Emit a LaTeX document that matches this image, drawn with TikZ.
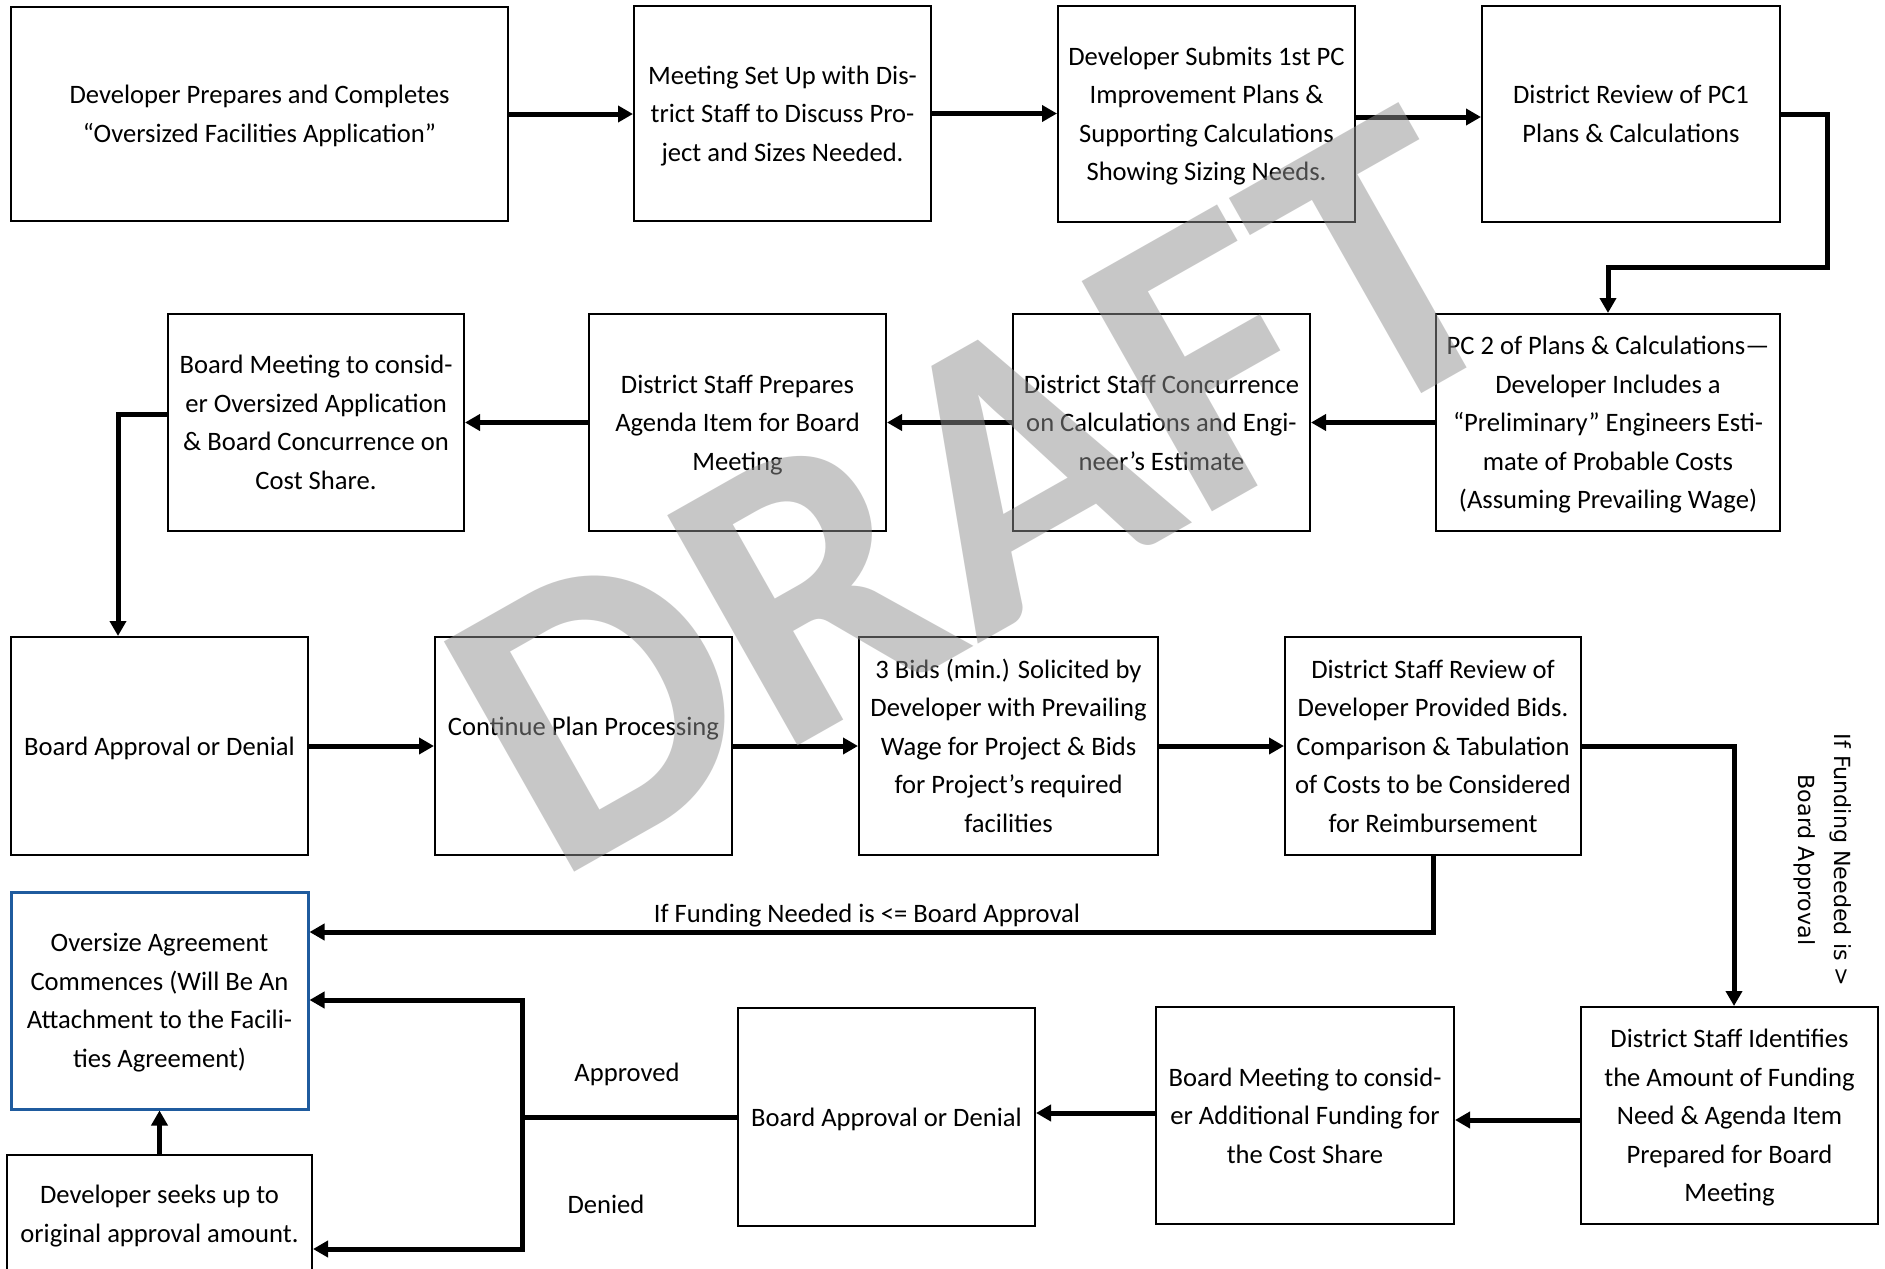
\documentclass[tikz,border=0pt]{standalone}
\usepackage{fontspec}
\setmainfont{Carlito}
\newfontfamily\dvsans{DejaVu Sans}
\usetikzlibrary{arrows.meta}
\definecolor{boxblue}{RGB}{31,91,158}
\definecolor{wmgray}{RGB}{145,145,145}
\newcommand\topst{\rule{0pt}{14pt}}
\newcommand\botst{\rule[-5pt]{0pt}{5pt}}
\begin{document}
\begin{tikzpicture}[x=0.5pt,y=-0.5pt,
  box/.style={draw=black,line width=1pt,fill=none,inner sep=0pt,align=center,
    font=\fontsize{13.3}{19.25}\selectfont},
  ln/.style={line width=2.5pt,line join=miter},
  arr/.style={ln,-{Triangle[length=7.5pt,width=8pt]}},
  lbl/.style={font=\fontsize{13.3}{19.25}\selectfont}]
\fill[white] (0,0) rectangle (1885,1269);
\useasboundingbox (0,0) rectangle (1885,1269);

% row 1
\node[box,minimum width=248.5pt,minimum height=107pt] (A) at (259.5,114)
  {\topst Developer Prepares and Completes\\“Oversized Facilities Application”\botst};
\node[box,minimum width=148.5pt,minimum height=107.5pt] (B) at (782.5,113.5)
  {\topst Meeting Set Up with Dis-\\trict Staff to Discuss Pro-\\ject and Sizes Needed.\botst};
\node[box,minimum width=148.5pt,minimum height=108pt] (C) at (1206.5,114)
  {\topst Developer Submits 1st PC\\Improvement Plans \&\\Supporting Calculations\\Showing Sizing Needs.\botst};
\node[box,minimum width=149pt,minimum height=108pt] (D) at (1631,114)
  {\topst District Review of PC1\\Plans \& Calculations\botst};
% row 2
\node[box,minimum width=172pt,minimum height=108.5pt] (E) at (1608,422.5)
  {\topst PC 2 of Plans \& Calculations—\\Developer Includes a\\“Preliminary” Engineers Esti-\\mate of Probable Costs\\(Assuming Prevailing Wage)\botst};
\node[box,minimum width=148.5pt,minimum height=108.5pt] (H) at (1161.5,422.5)
  {\topst District Staff Concurrence\\on Calculations and Engi-\\neer’s Estimate\botst};
\node[box,minimum width=148.5pt,minimum height=108.5pt] (G) at (737.5,422.5)
  {\topst District Staff Prepares\\Agenda Item for Board\\Meeting\botst};
\node[box,minimum width=148pt,minimum height=108.5pt] (F) at (316,422.5)
  {\topst Board Meeting to consid-\\er Oversized Application\\\& Board Concurrence on\\Cost Share.\botst};
% row 3
\node[box,minimum width=148.5pt,minimum height=109pt] (J) at (159.5,746)
  {\topst Board Approval or Denial\botst};
\node[box,minimum width=148.5pt,minimum height=109pt] (K) at (583.5,746)
  {\topst Continue Plan Processing\\\mbox{}\botst};
\node[box,minimum width=149.5pt,minimum height=109pt] (L) at (1008.5,746)
  {\topst 3 Bids (min.) Solicited by\\Developer with Prevailing\\Wage for Project \& Bids\\for Project’s required\\facilities\botst};
\node[box,minimum width=148pt,minimum height=109pt] (M) at (1433,746)
  {\topst District Staff Review of\\Developer Provided Bids.\\Comparison \& Tabulation\\of Costs to be Considered\\for Reimbursement\botst};
% row 4
\node[box,minimum width=148.5pt,minimum height=108.5pt] (N) at (1729.5,1115.5)
  {\topst District Staff Identifies\\the Amount of Funding\\Need \& Agenda Item\\Prepared for Board\\Meeting\botst};
\node[box,minimum width=149pt,minimum height=108.5pt] (R) at (1305,1115.5)
  {\topst Board Meeting to consid-\\er Additional Funding for\\the Cost Share\botst};
\node[box,minimum width=148.5pt,minimum height=109pt] (Q) at (886.5,1117)
  {\topst Board Approval or Denial\botst};
\node[box,draw=boxblue,line width=1.5pt,minimum width=148.5pt,minimum height=108.5pt] (O) at (159.5,1000.5)
  {\topst Oversize Agreement\\Commences (Will Be An\\Attachment to the Facili-\\ties Agreement)\botst};
\node[box,minimum width=152.5pt,minimum height=59pt] (P) at (159.5,1214)
  {\topst Developer seeks up to\\original approval amount.\botst};

% labels
\node[lbl] (lle) at (867,916) {If Funding Needed is <= Board Approval};
\node[lbl] (lap) at (627,1074.5) {Approved};
\node[lbl] (lde) at (606,1204.5) {Denied};
\node[rotate=-90,align=center,font=\dvsans\fontsize{11.1}{18}\selectfont] (lgt) at (1823,860)
  {If Funding Needed is >\\Board Approval};

% connectors
\draw[arr] (A.east) -- (A.east -| B.west);
\draw[arr] (B.east) -- (B.east -| C.west);
\draw[arr] ([yshift=-1.5pt]C.east) -- ([yshift=-1.5pt]C.east -| D.west);
\coordinate (de) at (1827,267);
\draw[arr] (D.east) -| (de) -| (E.north);
\draw[arr] (E.west) -- (E.west -| H.east);
\draw[arr] (H.west) -- (H.west -| G.east);
\draw[arr] (G.west) -- (G.west -| F.east);
\coordinate (fj) at (118,414);
\draw[arr] (F.west |- fj) -- (fj) -- (fj |- J.north);
\draw[arr] (J.east) -- (J.east -| K.west);
\draw[arr] (K.east) -- (K.east -| L.west);
\draw[arr] (L.east) -- (L.east -| M.west);
\coordinate (mn) at (1734,746);
\draw[arr] (M.east) -- (mn) -- (mn |- N.north);
\coordinate (mo) at (1433,932);
\draw[arr] (M.south) -- (mo) -- (mo -| O.east);
\draw[arr] ([yshift=-2.25pt]N.west) -- ([yshift=-2.25pt]N.west -| R.east);
\draw[arr] ([yshift=1.25pt]R.west) -- ([yshift=1.25pt]R.west -| Q.east);
\coordinate (qa) at (522,1000);
\coordinate (qd) at (522,1249);
\draw[ln] (Q.west) -- (Q.west -| qa);
\draw[arr] (Q.west -| qa) -- (qa) -- (qa -| O.east);
\draw[arr] (Q.west -| qa) -- (qd) -- (qd -| P.east);
\draw[arr] (P.north) -- (O.south);

% watermark
\node[rotate=29.5,text=wmgray,opacity=0.5,inner sep=0pt,
  font=\fontsize{204}{204}\selectfont\bfseries] (wm) at (978,492) {DRAFT};
\end{tikzpicture}
\end{document}
